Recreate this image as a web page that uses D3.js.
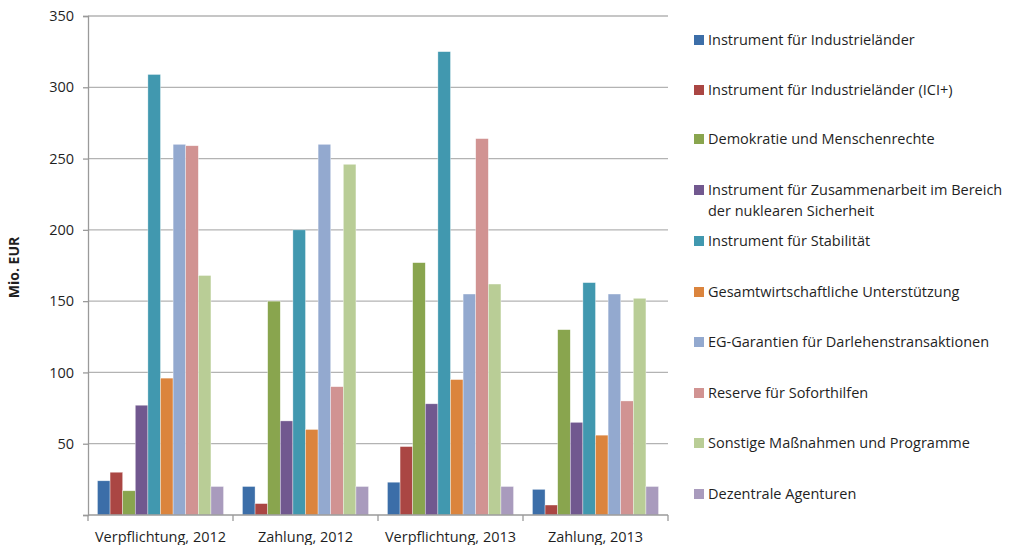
<!DOCTYPE html>
<html>
<head>
<meta charset="utf-8">
<script src="https://cdn.jsdelivr.net/npm/d3@7"></script>
<style>
  body { margin: 0; background: #fff; }
  text { font-family: "Open Sans", "Liberation Sans", sans-serif; fill: #1f1f1f; }
</style>
</head>
<body>
<script>
// categories on the x axis
var categories = ["Verpflichtung, 2012", "Zahlung, 2012", "Verpflichtung, 2013", "Zahlung, 2013"];

// series names (legend order)
var seriesNames = [
    "Instrument für Industrieländer",
    "Instrument für Industrieländer (ICI+)",
    "Demokratie und Menschenrechte",
    "Instrument für Zusammenarbeit im Bereich der nuklearen Sicherheit",
    "Instrument für Stabilität",
    "Gesamtwirtschaftliche Unterstützung",
    "EG-Garantien für Darlehenstransaktionen",
    "Reserve für Soforthilfen",
    "Sonstige Maßnahmen und Programme",
    "Dezentrale Agenturen"
];

// values per series, one per category (Mio. EUR)
var ici = [24, 20, 23, 18];
var iciPlus = [30, 8, 48, 7];
var demokratie = [17, 150, 177, 130];
var nuklear = [77, 66, 78, 65];
var stabilitaet = [309, 200, 325, 163];
var makro = [96, 60, 95, 56];
var garantien = [260, 260, 155, 155];
var reserve = [259, 90, 264, 80];
var sonstige = [168, 246, 162, 152];
var agenturen = [20, 20, 20, 20];

var allValues = [ici, iciPlus, demokratie, nuklear, stabilitaet, makro, garantien, reserve, sonstige, agenturen];

var colors = ["#3C6EA8", "#AA4643", "#89A54E", "#71588F", "#4198AF",
              "#DB843D", "#93A9CF", "#D19392", "#B9CD96", "#A99BBD"];

var yTicks = [0, 50, 100, 150, 200, 250, 300, 350];

var width = 1010, height = 545;
var margin = {top: 16, left: 88, right: 342, bottom: 30};

var svg = d3.select("body").append("svg")
    .attr("width", width)
    .attr("height", height);

var x0 = d3.scaleBand()
    .domain(categories)
    .range([margin.left, width - margin.right])
    .paddingInner(0).paddingOuter(0);

var x1 = d3.scaleBand()
    .domain(d3.range(seriesNames.length))
    .range([0, x0.bandwidth()])
    .paddingInner(0).paddingOuter(0.75);

var y = d3.scaleLinear()
    .domain([0, 350])
    .range([height - margin.bottom, margin.top]);

// grid lines
svg.append("g")
    .selectAll("line")
    .data(yTicks.slice(1))
    .enter().append("line")
    .attr("x1", margin.left)
    .attr("x2", width - margin.right)
    .attr("y1", function (d) { return y(d); })
    .attr("y2", function (d) { return y(d); })
    .attr("stroke", "#b3b3b3")
    .attr("stroke-width", 1.3);

// y axis
var yAxis = svg.append("g")
    .attr("transform", "translate(" + margin.left + ",0)")
    .call(d3.axisLeft(y).tickValues(yTicks).tickSize(5).tickPadding(9));
yAxis.select(".domain").attr("stroke", "#9a9a9a").attr("stroke-width", 1.3);
yAxis.selectAll(".tick line").attr("stroke", "#9a9a9a").attr("stroke-width", 1.3);
yAxis.selectAll(".tick text").attr("font-size", 14.5).style("fill", "#1f1f1f")
    .style("font-family", '"Open Sans", sans-serif');
yAxis.select(".tick text").text("");  // no label at 0

// bars
var groups = svg.append("g")
    .selectAll("g")
    .data(categories)
    .enter().append("g")
    .attr("transform", function (d) { return "translate(" + x0(d) + ",0)"; });

groups.selectAll("rect")
    .data(function (d, ci) {
        return allValues.map(function (vals, si) { return {s: si, v: vals[ci]}; });
    })
    .enter().append("rect")
    .attr("x", function (d) { return x1(d.s); })
    .attr("width", x1.bandwidth())
    .attr("y", function (d) { return y(d.v); })
    .attr("height", function (d) { return y(0) - y(d.v); })
    .attr("fill", function (d) { return colors[d.s]; })
    .attr("stroke", "rgba(255,255,255,0.6)")
    .attr("stroke-width", 0.6);

// x axis
var xAxis = svg.append("g")
    .attr("transform", "translate(0," + y(0) + ")");
xAxis.append("line")
    .attr("x1", margin.left).attr("x2", width - margin.right)
    .attr("stroke", "#9a9a9a").attr("stroke-width", 1.3);
xAxis.selectAll("line.tk")
    .data(categories.concat(["end"]))
    .enter().append("line")
    .attr("class", "tk")
    .attr("x1", function (d, i) { return i < categories.length ? x0(d) : width - margin.right; })
    .attr("x2", function (d, i) { return i < categories.length ? x0(d) : width - margin.right; })
    .attr("y1", 0).attr("y2", 6)
    .attr("stroke", "#9a9a9a").attr("stroke-width", 1.3);
xAxis.selectAll("text")
    .data(categories)
    .enter().append("text")
    .attr("x", function (d) { return x0(d) + x0.bandwidth() / 2; })
    .attr("y", 27)
    .attr("text-anchor", "middle")
    .attr("font-size", 14.5)
    .text(function (d) { return d; });

// y axis title
svg.append("text")
    .attr("transform", "translate(19," + (y(175) + 2) + ") rotate(-90)")
    .attr("text-anchor", "middle")
    .attr("font-size", 14)
    .attr("font-weight", "bold")
    .text("Mio. EUR");

// legend
var legendY = [40, 90, 139, 190, 241, 292, 342, 393, 443, 494];
var legend = svg.append("g")
    .selectAll("g")
    .data(seriesNames)
    .enter().append("g")
    .attr("transform", function (d, i) { return "translate(694," + legendY[i] + ")"; });

legend.append("rect")
    .attr("x", 0).attr("y", -5)
    .attr("width", 10).attr("height", 10)
    .attr("fill", function (d, i) { return colors[i]; });

legend.append("text")
    .attr("x", 14)
    .attr("y", 5)
    .attr("font-size", 14.5)
    .each(function (d) {
        var t = d3.select(this);
        if (d.indexOf("nuklearen") >= 0) {
            t.append("tspan").attr("x", 14).text("Instrument für Zusammenarbeit im Bereich");
            t.append("tspan").attr("x", 14).attr("dy", 21).text("der nuklearen Sicherheit");
        } else {
            t.text(d);
        }
    });
</script>
</body>
</html>
